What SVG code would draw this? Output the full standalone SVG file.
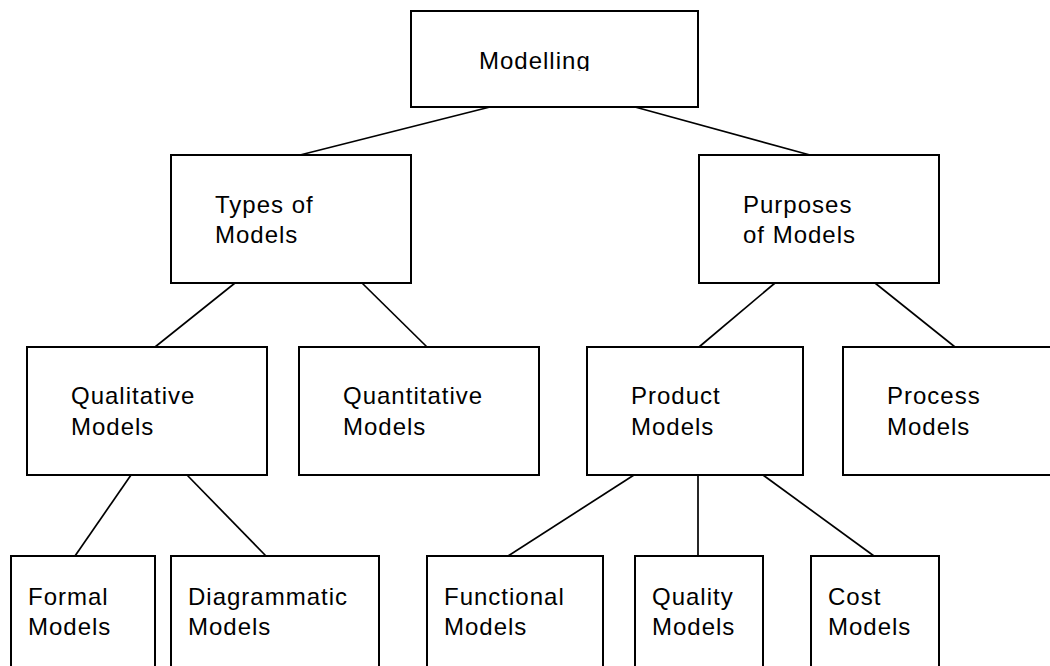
<svg xmlns="http://www.w3.org/2000/svg" width="1050" height="666" viewBox="0 0 1050 666">
  <style>
    .box { fill: #ffffff; stroke: #000000; stroke-width: 2; }
    .link { stroke: #000000; stroke-width: 1.7; fill: none; }
    .label { font-family: "Liberation Sans", Arial, sans-serif; font-size: 24px; fill: #000000; letter-spacing: 1px; }
  </style>
  <defs>
    <clipPath id="clip-top">
      <rect x="411" y="11" width="287" height="60"/>
    </clipPath>
  </defs>
  <rect width="1050" height="666" fill="#ffffff"/>

  <g id="connectors">
    <line class="link" x1="490" y1="107" x2="300" y2="155"/>
    <line class="link" x1="635" y1="107" x2="810" y2="155"/>
    <line class="link" x1="235" y1="283" x2="155" y2="347"/>
    <line class="link" x1="362" y1="283" x2="427" y2="347"/>
    <line class="link" x1="775" y1="283" x2="699" y2="347"/>
    <line class="link" x1="875" y1="283" x2="955" y2="347"/>
    <line class="link" x1="131" y1="475" x2="75" y2="556"/>
    <line class="link" x1="187" y1="475" x2="266" y2="556"/>
    <line class="link" x1="634" y1="475" x2="508" y2="556"/>
    <line class="link" x1="698" y1="475" x2="698" y2="556"/>
    <line class="link" x1="763" y1="475" x2="874" y2="556"/>
  </g>

  <g id="modelling">
    <rect class="box" x="411" y="11" width="287" height="96"/>
    <text class="label" x="479" y="69" clip-path="url(#clip-top)">Modelling</text>
  </g>

  <g id="types-of-models">
    <rect class="box" x="171" y="155" width="240" height="128"/>
    <text class="label" x="215" y="213">Types of</text>
    <text class="label" x="215" y="243">Models</text>
  </g>

  <g id="purposes-of-models">
    <rect class="box" x="699" y="155" width="240" height="128"/>
    <text class="label" x="743" y="213">Purposes</text>
    <text class="label" x="743" y="243">of Models</text>
  </g>

  <g id="qualitative-models">
    <rect class="box" x="27" y="347" width="240" height="128"/>
    <text class="label" x="71" y="404">Qualitative</text>
    <text class="label" x="71" y="435">Models</text>
  </g>

  <g id="quantitative-models">
    <rect class="box" x="299" y="347" width="240" height="128"/>
    <text class="label" x="343" y="404">Quantitative</text>
    <text class="label" x="343" y="435">Models</text>
  </g>

  <g id="product-models">
    <rect class="box" x="587" y="347" width="216" height="128"/>
    <text class="label" x="631" y="404">Product</text>
    <text class="label" x="631" y="435">Models</text>
  </g>

  <g id="process-models">
    <rect class="box" x="843" y="347" width="240" height="128"/>
    <text class="label" x="887" y="404">Process</text>
    <text class="label" x="887" y="435">Models</text>
  </g>

  <g id="formal-models">
    <rect class="box" x="11" y="556" width="144" height="128"/>
    <text class="label" x="28" y="605">Formal</text>
    <text class="label" x="28" y="635">Models</text>
  </g>

  <g id="diagrammatic-models">
    <rect class="box" x="171" y="556" width="208" height="128"/>
    <text class="label" x="188" y="605">Diagrammatic</text>
    <text class="label" x="188" y="635">Models</text>
  </g>

  <g id="functional-models">
    <rect class="box" x="427" y="556" width="176" height="128"/>
    <text class="label" x="444" y="605">Functional</text>
    <text class="label" x="444" y="635">Models</text>
  </g>

  <g id="quality-models">
    <rect class="box" x="635" y="556" width="128" height="128"/>
    <text class="label" x="652" y="605">Quality</text>
    <text class="label" x="652" y="635">Models</text>
  </g>

  <g id="cost-models">
    <rect class="box" x="811" y="556" width="128" height="128"/>
    <text class="label" x="828" y="605">Cost</text>
    <text class="label" x="828" y="635">Models</text>
  </g>
</svg>
